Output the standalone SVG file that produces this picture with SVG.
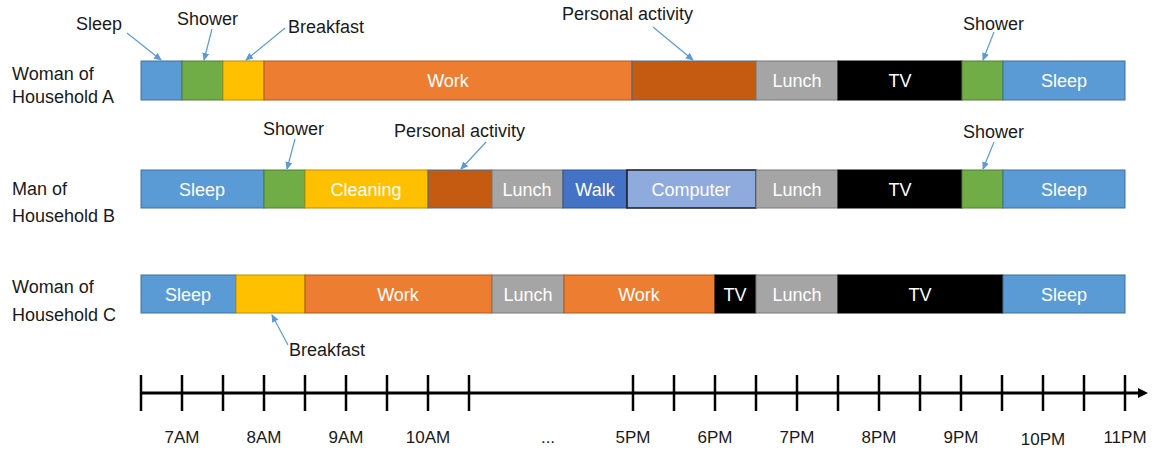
<svg xmlns="http://www.w3.org/2000/svg" width="1156" height="453" viewBox="0 0 1156 453">
<defs>
<marker id="ah" markerWidth="8" markerHeight="8" refX="7" refY="4" orient="auto" markerUnits="userSpaceOnUse">
<path d="M0,0.5 L8,4 L0,7.5 Z" fill="#5B9BD5"/>
</marker>
<marker id="axh" markerWidth="12" markerHeight="12" refX="2" refY="6" orient="auto" markerUnits="userSpaceOnUse">
<path d="M0,1 L10,6 L0,11 Z" fill="#000"/>
</marker>
</defs>
<style>
text{font-family:"Liberation Sans",Arial,sans-serif;}
.lbl{font-size:18px;fill:#1a1a1a;}
.in{font-size:18px;fill:#fff;text-anchor:middle;}
.ax{font-size:17px;fill:#1a1a1a;text-anchor:middle;}
.sleep{fill:#5B9BD5;stroke:#41719C;stroke-width:1}
.shower{fill:#70AD47;stroke:#507E32;stroke-width:1}
.yel{fill:#FFC000;stroke:#BC8C00;stroke-width:1}
.work{fill:#ED7D31;stroke:#AE5A21;stroke-width:1}
.pers{fill:#C55A11;stroke:#41719C;stroke-width:1}
.lunch{fill:#A5A5A5;stroke:#787878;stroke-width:1}
.tv{fill:#000;stroke:#000;stroke-width:1}
.walk{fill:#4472C4;stroke:#2F528F;stroke-width:1}
.comp{fill:#8FAADC;stroke:#1a1a1a;stroke-width:1.5}
.conn{stroke:#5B9BD5;stroke-width:1.2;fill:none;marker-end:url(#ah)}
.axl{stroke:#000;stroke-width:3;fill:none}
.tk{stroke:#000;stroke-width:2.5}
</style>

<!-- Row labels -->
<g id="label-A"><text class="lbl" x="12" y="80">Woman of</text><text class="lbl" x="12" y="103">Household A</text></g>
<g id="label-B"><text class="lbl" x="12" y="195">Man of</text><text class="lbl" x="12" y="222">Household B</text></g>
<g id="label-C"><text class="lbl" x="12" y="293">Woman of</text><text class="lbl" x="12" y="321">Household C</text></g>

<!-- Row A -->
<g id="rowA">
<g id="A-sleep1"><rect class="sleep" x="141" y="61" width="41" height="39"/></g>
<g id="A-shower1"><rect class="shower" x="182" y="61" width="41" height="39"/></g>
<g id="A-breakfast"><rect class="yel" x="223" y="61" width="41" height="39"/></g>
<g id="A-work"><rect class="work" x="264" y="61" width="368" height="39"/><text class="in" x="448" y="87">Work</text></g>
<g id="A-personal"><rect class="pers" x="632" y="61" width="124" height="39"/></g>
<g id="A-lunch"><rect class="lunch" x="756" y="61" width="82" height="39"/><text class="in" x="797" y="87">Lunch</text></g>
<g id="A-tv"><rect class="tv" x="838" y="61" width="124" height="39"/><text class="in" x="900" y="87">TV</text></g>
<g id="A-shower2"><rect class="shower" x="962" y="61" width="41" height="39"/></g>
<g id="A-sleep2"><rect class="sleep" x="1003" y="61" width="122" height="39"/><text class="in" x="1064" y="87">Sleep</text></g>
</g>

<!-- Row B -->
<g id="rowB">
<g id="B-sleep1"><rect class="sleep" x="141" y="170" width="123" height="38"/><text class="in" x="202" y="196">Sleep</text></g>
<g id="B-shower1"><rect class="shower" x="264" y="170" width="41" height="38"/></g>
<g id="B-cleaning"><rect class="yel" x="305" y="170" width="123" height="38"/><text class="in" x="366" y="196">Cleaning</text></g>
<g id="B-personal"><rect class="pers" x="428" y="170" width="64" height="38"/></g>
<g id="B-lunch1"><rect class="lunch" x="492" y="170" width="71" height="38"/><text class="in" x="527" y="196">Lunch</text></g>
<g id="B-walk"><rect class="walk" x="563" y="170" width="64" height="38"/><text class="in" x="595" y="196">Walk</text></g>
<g id="B-computer"><rect class="comp" x="627" y="170" width="129" height="38"/><text class="in" x="691" y="196">Computer</text></g>
<g id="B-lunch2"><rect class="lunch" x="756" y="170" width="82" height="38"/><text class="in" x="797" y="196">Lunch</text></g>
<g id="B-tv"><rect class="tv" x="838" y="170" width="124" height="38"/><text class="in" x="900" y="196">TV</text></g>
<g id="B-shower2"><rect class="shower" x="962" y="170" width="41" height="38"/></g>
<g id="B-sleep2"><rect class="sleep" x="1003" y="170" width="122" height="38"/><text class="in" x="1064" y="196">Sleep</text></g>
</g>

<!-- Row C -->
<g id="rowC">
<g id="C-sleep1"><rect class="sleep" x="141" y="275" width="95" height="38"/><text class="in" x="188" y="301">Sleep</text></g>
<g id="C-breakfast"><rect class="yel" x="236" y="275" width="69" height="38"/></g>
<g id="C-work1"><rect class="work" x="305" y="275" width="187" height="38"/><text class="in" x="398" y="301">Work</text></g>
<g id="C-lunch1"><rect class="lunch" x="492" y="275" width="72" height="38"/><text class="in" x="528" y="301">Lunch</text></g>
<g id="C-work2"><rect class="work" x="564" y="275" width="151" height="38"/><text class="in" x="639" y="301">Work</text></g>
<g id="C-tv1"><rect class="tv" x="715" y="275" width="41" height="38"/><text class="in" x="735" y="301">TV</text></g>
<g id="C-lunch2"><rect class="lunch" x="756" y="275" width="82" height="38"/><text class="in" x="797" y="301">Lunch</text></g>
<g id="C-tv2"><rect class="tv" x="838" y="275" width="165" height="38"/><text class="in" x="920" y="301">TV</text></g>
<g id="C-sleep2"><rect class="sleep" x="1003" y="275" width="122" height="38"/><text class="in" x="1064" y="301">Sleep</text></g>
</g>

<!-- Callout labels -->
<g id="co-A-sleep"><text class="lbl" x="76" y="30">Sleep</text></g>
<g id="co-A-shower1"><text class="lbl" x="177" y="25">Shower</text></g>
<g id="co-A-breakfast"><text class="lbl" x="288" y="33">Breakfast</text></g>
<g id="co-A-personal"><text class="lbl" x="562" y="20">Personal activity</text></g>
<g id="co-A-shower2"><text class="lbl" x="963" y="30">Shower</text></g>
<g id="co-B-shower1"><text class="lbl" x="263" y="135">Shower</text></g>
<g id="co-B-personal"><text class="lbl" x="394" y="137">Personal activity</text></g>
<g id="co-B-shower2"><text class="lbl" x="963" y="138">Shower</text></g>
<g id="co-C-breakfast"><text class="lbl" x="289" y="356">Breakfast</text></g>

<!-- Connectors -->
<g id="connectors">
<line class="conn" x1="127" y1="33" x2="161" y2="60"/>
<line class="conn" x1="212" y1="29" x2="204" y2="60"/>
<line class="conn" x1="285" y1="28" x2="246" y2="60"/>
<line class="conn" x1="653" y1="27" x2="693" y2="60"/>
<line class="conn" x1="994" y1="32" x2="983" y2="60"/>
<line class="conn" x1="295" y1="139" x2="287" y2="169"/>
<line class="conn" x1="486" y1="142" x2="461" y2="169"/>
<line class="conn" x1="994" y1="142" x2="983" y2="169"/>
<line class="conn" x1="288" y1="345" x2="272" y2="315"/>
</g>

<!-- Axis -->
<g id="axis">
<line class="axl" x1="141" y1="393" x2="1140" y2="393" marker-end="url(#axh)"/>
<g class="tk">
<line x1="141" y1="375" x2="141" y2="411"/>
<line x1="182" y1="375" x2="182" y2="411"/>
<line x1="223" y1="375" x2="223" y2="411"/>
<line x1="264" y1="375" x2="264" y2="411"/>
<line x1="305" y1="375" x2="305" y2="411"/>
<line x1="346" y1="375" x2="346" y2="411"/>
<line x1="387" y1="375" x2="387" y2="411"/>
<line x1="428" y1="375" x2="428" y2="411"/>
<line x1="469" y1="375" x2="469" y2="411"/>
<line x1="633" y1="375" x2="633" y2="411"/>
<line x1="674" y1="375" x2="674" y2="411"/>
<line x1="715" y1="375" x2="715" y2="411"/>
<line x1="756" y1="375" x2="756" y2="411"/>
<line x1="797" y1="375" x2="797" y2="411"/>
<line x1="838" y1="375" x2="838" y2="411"/>
<line x1="879" y1="375" x2="879" y2="411"/>
<line x1="920" y1="375" x2="920" y2="411"/>
<line x1="961" y1="375" x2="961" y2="411"/>
<line x1="1002" y1="375" x2="1002" y2="411"/>
<line x1="1043" y1="375" x2="1043" y2="411"/>
<line x1="1084" y1="375" x2="1084" y2="411"/>
<line x1="1125" y1="375" x2="1125" y2="411"/>
</g>
<text class="ax" x="182" y="443">7AM</text>
<text class="ax" x="264" y="443">8AM</text>
<text class="ax" x="346" y="443">9AM</text>
<text class="ax" x="428" y="443">10AM</text>
<text class="ax" x="548" y="443">...</text>
<text class="ax" x="633" y="443">5PM</text>
<text class="ax" x="715" y="443">6PM</text>
<text class="ax" x="797" y="443">7PM</text>
<text class="ax" x="879" y="443">8PM</text>
<text class="ax" x="961" y="443">9PM</text>
<text class="ax" x="1043" y="445">10PM</text>
<text class="ax" x="1125" y="443">11PM</text>
</g>
</svg>
